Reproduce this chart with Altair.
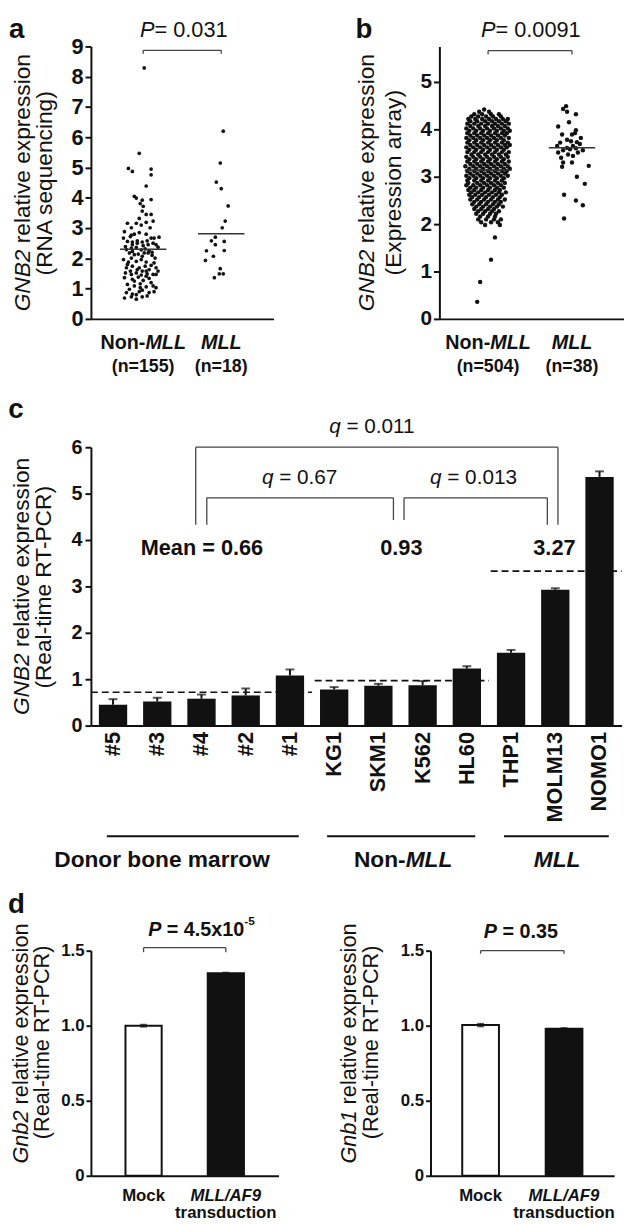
import altair as alt
import pandas as pd

FONT = "Liberation Sans"
INK = "#111111"
LINE_GRAY = "#444444"

# ---------------- panel a : RNA sequencing ----------------
A_GROUPS = ["Non-MLL", "MLL"]
A_COUNTS = ["(n=155)", "(n=18)"]
A_NON_VALUES = [
    8.29, 5.47, 4.97, 4.87, 4.95, 4.76, 4.39, 4.05, 3.99, 3.92,
    3.94, 3.81, 3.72, 3.56, 3.45, 3.23, 3.16, 3.16, 3.19, 3.01,
    3.10, 3.01, 2.67, 2.72, 2.80, 2.85, 2.80, 2.70, 2.56, 2.54,
    2.58, 2.54, 2.58, 2.50, 2.39, 2.34, 2.36, 2.28, 2.31, 2.25,
    2.37, 2.18, 2.12, 2.14, 2.07, 2.18, 2.10, 1.96, 2.01, 1.90,
    1.96, 1.88, 1.85, 1.80, 1.74, 1.69, 1.74, 1.77, 1.58, 1.58,
    1.52, 1.58, 1.49, 1.47, 1.36, 1.31, 1.38, 1.27, 1.34, 1.14,
    1.09, 1.16, 1.06, 1.09, 0.87, 0.82, 0.90, 0.87, 0.69, 0.73,
    0.65, 0.73, 2.29, 2.50, 2.67, 2.45, 2.23, 2.18, 2.01, 1.69,
    1.63, 1.69, 1.47, 1.45, 1.41, 1.25, 1.20, 1.03, 0.98, 0.95,
    0.76, 0.80, 0.90, 2.77, 2.88, 3.45, 3.32, 2.45, 2.42, 2.45,
    1.88, 2.20, 1.58, 1.63, 1.47, 1.52, 1.03, 2.67,
]
A_NON_JITTER = [
    1, -4, -15, -11, 8, 8, 3, -9, -7, -1,
    8, -3, 0, -1, 3, 10, -16, -7, 3, -12,
    -2, 7, -20, -13, -9, -4, 3, 16, -16, -11,
    -6, -1, 4, 10, -18, -12, -7, -2, 2, 6,
    15, -14, -9, -5, -1, 5, 9, -20, -12, -7,
    -2, 3, 11, -16, -11, -4, 2, 8, 15, -13,
    -7, -1, 4, 10, -19, -11, -5, 0, 6, -16,
    -9, -3, 3, 10, -17, -11, -4, 6, -19, -12,
    -7, -1, -17, -6, 8, 13, -11, 1, 12, -17,
    6, 13, -12, -2, 3, -9, 8, 13, -14, -1,
    4, -7, 11, -12, -19, 8, -4, -11, 0, 5,
    -15, 9, 3, -6, 13, -18, -3, 11,
]
A_MLL_VALUES = [6.20, 5.15, 4.52, 4.30, 3.73, 3.23, 3.01, 2.70, 2.58, 2.56,
                2.45, 2.25, 2.26, 2.07, 1.93, 1.66, 1.49, 1.49, 1.36]
A_MLL_JITTER = [2, -1, -5, 0, 7, 4, 1, -6, -10, 3, -6, -15, 3, -8, -16, -1, -2, 2, -7]
A_MEANS = [2.30, 2.81]
A_BRACKET = [8.76, 8.87]
A_P = "0.031"
A_Y_TICKS = [0, 1, 2, 3, 4, 5, 6, 7, 8, 9]

# ---------------- panel b : expression array ----------------
B_COUNTS = ["(n=504)", "(n=38)"]
B_NON_ROWS = [
    (4.42, [-4]),
    (4.37, [-9, 1]),
    (4.32, [-14, -6, 3, 11]),
    (4.27, [-17, -10, -2, 5, 13]),
    (4.22, [-20, -13, -6, 1, 8, 15, 20]),
    (4.17, [-18, -11, -3, 4, 11, 18]),
    (4.12, [-21, -14, -7, 0, 7, 14, 21]),
    (4.07, [-18, -10, -3, 4, 10, 17]),
    (4.02, [-22, -15, -8, -1, 6, 13, 20]),
    (3.97, [-19, -12, -5, 2, 9, 16, 22]),
    (3.92, [-21, -14, -7, 0, 7, 14, 19]),
    (3.87, [-18, -11, -4, 3, 10, 17]),
    (3.82, [-22, -15, -8, -1, 6, 13, 21]),
    (3.77, [-19, -12, -5, 2, 9, 16]),
    (3.72, [-21, -14, -7, 0, 7, 14, 20]),
    (3.67, [-18, -11, -4, 3, 10, 17, 22]),
    (3.62, [-22, -15, -8, -1, 6, 13, 19]),
    (3.57, [-19, -12, -5, 2, 9, 16]),
    (3.52, [-21, -14, -7, 0, 7, 14, 21]),
    (3.47, [-17, -10, -3, 4, 11, 18]),
    (3.42, [-22, -15, -8, -1, 6, 13, 20]),
    (3.37, [-19, -12, -5, 2, 9, 16]),
    (3.32, [-21, -14, -7, 0, 7, 14, 21]),
    (3.27, [-18, -11, -4, 3, 10, 17]),
    (3.22, [-23, -15, -8, -1, 6, 13, 20]),
    (3.17, [-19, -12, -5, 2, 9, 16, 22]),
    (3.12, [-21, -14, -7, 0, 7, 14, 19]),
    (3.07, [-18, -11, -4, 3, 10, 17]),
    (3.02, [-22, -15, -8, -1, 6, 13, 20]),
    (2.97, [-19, -12, -5, 2, 9, 16]),
    (2.92, [-21, -14, -7, 0, 7, 14]),
    (2.87, [-20, -11, -4, 3, 10, 17]),
    (2.82, [-22, -15, -8, -1, 6, 13]),
    (2.77, [-18, -12, -5, 2, 9, 16]),
    (2.72, [-20, -14, -7, 0, 7, 12]),
    (2.67, [-17, -10, -3, 4, 11, 18]),
    (2.62, [-19, -13, -6, 1, 8, 14]),
    (2.57, [-16, -9, -2, 5, 12]),
    (2.52, [-18, -11, -4, 3, 10, 17]),
    (2.47, [-14, -7, 0, 7, 13]),
    (2.42, [-16, -9, -2, 5, 11]),
    (2.37, [-12, -5, 2, 9, 15]),
    (2.32, [-14, -7, 0, 6]),
    (2.27, [-10, -3, 4, 11]),
    (2.22, [-12, -5, 2, 8]),
    (2.16, [-8, 0, 7]),
    (2.10, [-10, -2, 6, 13]),
    (2.04, [-7, 3, 10]),
    (1.98, [-3, 12]),
    (1.72, [7]),
    (1.25, [3]),
    (0.78, [-8]),
    (0.36, [-11]),
]
B_MLL_VALUES = [4.49, 4.43, 4.37, 4.32, 4.06, 4.15, 3.98, 3.92, 3.89, 3.78,
                3.75, 3.73, 3.72, 3.69, 3.65, 3.60, 3.58, 3.56, 3.51, 3.47,
                3.44, 3.56, 3.30, 3.30, 3.21, 3.23, 3.00, 2.85, 2.62, 2.50,
                2.40, 2.12, 3.40, 3.51, 3.61, 3.65, 3.82, 3.89]
B_MLL_JITTER = [-6, -9, -5, 4, -14, -3, 4, 3, -10, -5, -1, 5, -12, 8, 1, 4, -2, -9, -14, -4,
                1, 11, -9, 0, -10, 17, 5, 13, -8, 4, 11, -8, -11, 6, -5, -15, 9, 0]
B_MEANS = [3.14, 3.61]
B_BRACKET = [5.58, 5.66]
B_P = "0.0091"
B_Y_TICKS = [0, 1, 2, 3, 4, 5]

# ---------------- panel c : real-time RT-PCR ----------------
C_CATS = ["#5", "#3", "#4", "#2", "#1", "KG1", "SKM1", "K562", "HL60", "THP1", "MOLM13", "NOMO1"]
C_MEANS = [0.45, 0.52, 0.58, 0.65, 1.08, 0.78, 0.86, 0.87, 1.23, 1.57, 2.93, 5.36]
C_ERRS = [0.12, 0.08, 0.09, 0.15, 0.13, 0.05, 0.04, 0.09, 0.05, 0.06, 0.03, 0.12]
C_GROUP_NAMES = ["Donor bone marrow", "Non-MLL", "MLL"]
C_GROUP_START = [0.0, 5.06, 9.04]
C_GROUP_END = [5.0, 9.0, 12.0]
C_GROUP_MEANS = [0.72, 0.97, 3.33]
C_UNDERLINE_START = [0.36, 5.34, 9.34]
C_UNDERLINE_END = [4.70, 8.69, 11.71]
C_GROUP_LABEL_X = [1.61, 7.06, 10.54]
C_MEAN_LABELS = ["Mean = 0.66", "0.93", "3.27"]
C_MEAN_LABEL_X = [2.51, 7.02, 10.48]
C_MEAN_LABEL_Y = 3.67
# brackets: x1, x2, top, left leg bottom, right leg bottom
C_BRACKETS = [(2.37, 10.56, 6.00, 4.33, 4.33),
              (2.62, 6.84, 4.91, 4.33, 4.43),
              (7.08, 10.32, 4.91, 4.43, 4.33)]
C_Q_LABELS = ["0.011", "0.67", "0.013"]
C_Q_X = [6.37, 4.72, 8.65]
C_Q_Y = [6.31, 5.21, 5.21]
C_Y_TICKS = [0, 1, 2, 3, 4, 5, 6]

# ---------------- panel d : MLL/AF9 transduction ----------------
D_CATS = ["Mock", "MLL/AF9"]
D1_MEANS = [1.00, 1.35]
D1_ERRS = [0.008, 0.005]
D1_BRACKET = [1.49, 1.52]
D2_MEANS = [1.004, 0.98]
D2_ERRS = [0.010, 0.006]
D2_BRACKET = [1.48, 1.50]
D_Y_TICKS = [0, 0.5, 1.0, 1.5]

# ---------------- text helpers (Arial / Liberation Sans metrics) ----------------
W_REG = {" ": 278, "(": 333, ")": 333, "-": 333, ".": 278, "=": 584, "/": 278, "#": 556,
         "A": 667, "B": 667, "C": 722, "E": 667, "F": 611, "G": 778, "L": 556, "M": 833,
         "N": 722, "P": 667, "R": 722, "S": 667, "T": 611,
         "a": 556, "b": 556, "c": 500, "d": 556, "e": 556, "g": 556, "i": 222, "l": 222,
         "m": 833, "n": 556, "o": 556, "p": 556, "q": 556, "r": 333, "s": 500, "t": 278,
         "u": 556, "v": 500, "w": 722, "x": 500, "y": 500}
W_BOLD = {" ": 278, "(": 333, ")": 333, "-": 333, ".": 278, "=": 584, "/": 278, "#": 556,
          "A": 722, "B": 722, "D": 722, "F": 611, "L": 611, "M": 833, "N": 722, "P": 667,
          "a": 556, "b": 611, "c": 556, "d": 611, "e": 556, "i": 278, "k": 556, "l": 278,
          "m": 889, "n": 611, "o": 611, "r": 389, "s": 556, "t": 333, "u": 611, "w": 778,
          "x": 556}

ONE = alt.Data(values=[{"k": 0}])


def tw(s, size, bold=False):
    tbl = W_BOLD if bold else W_REG
    return sum(tbl.get(ch, 556) for ch in s) * size / 1000.0


def seg(text, italic=False, bold=False, size=None, dy=0):
    return {"text": text, "italic": italic, "bold": bold, "size": size, "dy": dy}


def mixed(segs, size, enc, data=None, angle=0, anchor="center", color=INK):
    data = ONE if data is None else data
    widths = [tw(s["text"], s["size"] or size, s["bold"]) for s in segs]
    total = sum(widths)
    off = {"center": -total / 2.0, "left": 0.0, "right": -total}[anchor]
    out = []
    for s, w in zip(segs, widths):
        fs = s["size"] or size
        t = s["text"]
        lead = len(t) - len(t.lstrip(" "))
        dx = off + tw(" " * lead, fs, s["bold"])
        out.append(
            alt.Chart(data).mark_text(
                text=t.strip(" "), align="left", baseline="alphabetic",
                dx=dx, dy=s["dy"], angle=angle, font=FONT, fontSize=fs,
                fontStyle="italic" if s["italic"] else "normal",
                fontWeight="bold" if s["bold"] else "normal", color=color,
            ).encode(**enc)
        )
        off += w
    return out


def letter(ch, x, y, opacity=1.0):
    return alt.Chart(ONE).mark_text(
        text=ch, align="left", baseline="alphabetic", font=FONT, fontSize=28,
        fontWeight="bold", color=INK, opacity=opacity,
    ).encode(x=alt.value(x), y=alt.value(y))


def y_axis(values, size, fmt="d", expr=None, tick=6, pad=2):
    kw = dict(values=values, title=None, grid=False, labelFont=FONT, labelFontSize=size,
              labelFontWeight="bold", labelColor=INK, labelPadding=pad, tickSize=tick,
              tickWidth=2, tickColor=INK, domainWidth=2, domainColor=INK, labelOverlap=False)
    if expr:
        kw["labelExpr"] = expr
    else:
        kw["format"] = fmt
    return alt.Axis(**kw)


X_PLAIN = alt.Axis(labels=False, ticks=False, grid=False, title=None, domainWidth=2, domainColor=INK)


# ---------------- scatter panels (a, b) ----------------
def scatter_panel(width, height, xdom, ydom, yticks, ysize, non_vals, non_jit, mll_vals, mll_jit,
                  means, bracket, p_value, p_pos, counts, title2, let, let_x, t1x, t2x, pt_size):
    ppu = width / (xdom[1] - xdom[0])
    SX = alt.Scale(domain=xdom, nice=False, zero=False)
    SY = alt.Scale(domain=ydom, nice=False, zero=True)
    YA = y_axis(yticks, ysize)

    def ex(f="x"):
        return alt.X(f + ":Q", scale=SX, axis=X_PLAIN)

    def ey(f="y"):
        return alt.Y(f + ":Q", scale=SY, axis=YA)

    pts = pd.DataFrame({
        "x": [j / ppu for j in non_jit] + [1 + j / ppu for j in mll_jit],
        "y": list(non_vals) + list(mll_vals),
    })
    layers = [alt.Chart(pts).mark_circle(size=pt_size, color=INK, opacity=1).encode(x=ex(), y=ey())]

    half = 23.5 / ppu
    ml = pd.DataFrame({"x": [i - half for i in range(2)], "x2": [i + half for i in range(2)], "y": means})
    layers.append(alt.Chart(ml).mark_rule(color="#333333", strokeWidth=1.6).encode(
        x=ex(), x2="x2:Q", y=ey()))

    lo, hi = bracket
    br = pd.DataFrame({"x": [0, 0, 1], "x2": [1, 0, 1], "y": [hi, lo, lo], "y2": [hi, hi, hi]})
    layers.append(alt.Chart(br).mark_rule(color=LINE_GRAY, strokeWidth=1.3).encode(
        x=ex(), x2="x2:Q", y=ey(), y2="y2:Q"))

    pdata = alt.Data(values=[{"x": p_pos[0], "y": p_pos[1]}])
    layers += mixed([seg("P", italic=True), seg("= " + p_value)], 22,
                    {"x": ex(), "y": ey()}, data=pdata)

    for i, name in enumerate(A_GROUPS):
        d = alt.Data(values=[{"x": i}])
        if name.startswith("Non-"):
            segs = [seg("Non-", bold=True), seg("MLL", italic=True, bold=True)]
        else:
            segs = [seg("MLL", italic=True, bold=True)]
        layers += mixed(segs, 20, {"x": ex(), "y": alt.value(306)}, data=d)
        layers += mixed([seg(counts[i], bold=True)], 18, {"x": ex(), "y": alt.value(330)}, data=d)

    layers += mixed([seg("GNB2", italic=True), seg(" relative expression")], 23,
                    {"x": alt.value(t1x), "y": alt.value(height / 2.0)}, angle=270)
    layers += mixed([seg(title2)], 23, {"x": alt.value(t2x), "y": alt.value(height / 2.0)}, angle=270)
    layers.append(letter(let, let_x, -9))
    return alt.layer(*layers).properties(width=width, height=height)


panel_a = scatter_panel(
    185, 276, [-0.67, 1.67], [0, 9], A_Y_TICKS, 22,
    A_NON_VALUES, A_NON_JITTER, A_MLL_VALUES, A_MLL_JITTER,
    A_MEANS, A_BRACKET, A_P, (0.52, 9.31), A_COUNTS, "(RNA sequencing)",
    "a", -83, -62, -39, 14)

B_NON_VALUES = [v for v, js in B_NON_ROWS for _ in js]
B_NON_JITTER = [j for v, js in B_NON_ROWS for j in js]

panel_b = scatter_panel(
    187, 276, [-0.58, 1.62], [0, 5.75], B_Y_TICKS, 21,
    B_NON_VALUES, B_NON_JITTER, B_MLL_VALUES, B_MLL_JITTER,
    B_MEANS, B_BRACKET, B_P, (0.51, 5.95), B_COUNTS, "(Expression array)",
    "b", -85, -66, -39, 20)

# ---------------- panel c ----------------
C_W, C_H = 537.6, 282
C_BAND = alt.Scale(type="band", domain=C_CATS, paddingInner=0.36, paddingOuter=0.18)
C_OV = alt.Scale(domain=[0, 12], nice=False, zero=False)
C_SY = alt.Scale(domain=[0, 6], nice=False)
C_YA = y_axis(C_Y_TICKS, 20, tick=6, pad=3)


def cx(f="x"):
    return alt.X(f + ":Q", scale=C_OV, axis=None)


def cy(f="y"):
    return alt.Y(f + ":Q", scale=C_SY, axis=C_YA)


c_df = pd.DataFrame({"cat": C_CATS, "m": C_MEANS,
                     "hi": [m + e for m, e in zip(C_MEANS, C_ERRS)]})
c_layers = [
    alt.Chart(c_df).mark_bar(color=INK).encode(
        x=alt.X("cat:N", scale=C_BAND, axis=alt.Axis(
            title=None, labelAngle=-90, labelFont=FONT, labelFontSize=22, labelFontWeight="bold",
            labelColor=INK, labelPadding=6, ticks=False, domainWidth=2, domainColor=INK, grid=False)),
        y=cy("m")),
    alt.Chart(c_df).mark_rule(color=INK, strokeWidth=2).encode(
        x=alt.X("cat:N", scale=C_BAND, axis=None), y=cy("m"), y2="hi:Q"),
    alt.Chart(c_df).mark_tick(color=INK, thickness=2, size=9).encode(
        x=alt.X("cat:N", scale=C_BAND, axis=None), y=cy("hi")),
]
dash_df = pd.DataFrame({"x": C_GROUP_START, "x2": C_GROUP_END, "y": C_GROUP_MEANS})
c_layers.append(alt.Chart(dash_df).mark_rule(color=INK, strokeWidth=1.6, strokeDash=[7, 4]).encode(
    x=cx(), x2="x2:Q", y=cy()))
br_rows = []
for x1, x2, top, l1, l2 in C_BRACKETS:
    br_rows += [{"x": x1, "x2": x2, "y": top, "y2": top},
                {"x": x1, "x2": x1, "y": l1, "y2": top},
                {"x": x2, "x2": x2, "y": l2, "y2": top}]
c_layers.append(alt.Chart(pd.DataFrame(br_rows)).mark_rule(color=LINE_GRAY, strokeWidth=1.3).encode(
    x=cx(), x2="x2:Q", y=cy(), y2="y2:Q"))
for lab, qx_, qy_ in zip(C_Q_LABELS, C_Q_X, C_Q_Y):
    c_layers += mixed([seg("q", italic=True), seg(" = " + lab)], 21,
                      {"x": cx(), "y": cy()}, data=alt.Data(values=[{"x": qx_, "y": qy_}]))
mean_df = pd.DataFrame({"x": C_MEAN_LABEL_X, "y": [C_MEAN_LABEL_Y] * 3, "t": C_MEAN_LABELS})
c_layers.append(alt.Chart(mean_df).mark_text(
    font=FONT, fontSize=22, fontWeight="bold", color=INK, align="center", baseline="alphabetic").encode(
    x=cx(), y=cy(), text="t:N"))
ul_df = pd.DataFrame({"x": C_UNDERLINE_START, "x2": C_UNDERLINE_END})
c_layers.append(alt.Chart(ul_df).mark_rule(color=INK, strokeWidth=2).encode(
    x=cx(), x2="x2:Q", y=alt.value(394)))
for name, gx in zip(C_GROUP_NAMES, C_GROUP_LABEL_X):
    if name.startswith("Non-"):
        segs = [seg("Non-", bold=True), seg("MLL", italic=True, bold=True)]
    elif name == "MLL":
        segs = [seg("MLL", italic=True, bold=True)]
    else:
        segs = [seg(name, bold=True)]
    c_layers += mixed(segs, 23, {"x": cx(), "y": alt.value(425)}, data=alt.Data(values=[{"x": gx}]))
c_layers += mixed([seg("GNB2", italic=True), seg(" relative expression")], 23,
                  {"x": alt.value(-62.7), "y": alt.value(C_H / 2.0)}, angle=270)
c_layers += mixed([seg("(Real-time RT-PCR)")], 23,
                  {"x": alt.value(-40.7), "y": alt.value(C_H / 2.0)}, angle=270)
c_layers.append(letter("c", -83.7, -30))
panel_c = alt.layer(*c_layers).resolve_scale(x="independent").properties(width=C_W, height=C_H)


# ---------------- panel d ----------------
def d_panel(means, errs, bracket, p_segs, p_x, p_y, gene, width, pad_outer, t1x, t2x, show_letter):
    band = alt.Scale(type="band", domain=D_CATS, paddingInner=0.56, paddingOuter=pad_outer)
    SY = alt.Scale(domain=[0, 1.5], nice=False)
    YA = y_axis(D_Y_TICKS, 17, expr="datum.value == 0 ? '0' : format(datum.value, '.1f')", tick=5, pad=2)

    def dx_(f="c"):
        return alt.X(f + ":N", scale=band, axis=X_PLAIN)

    def dy_(f):
        return alt.Y(f + ":Q", scale=SY, axis=YA)

    df = pd.DataFrame({"c": D_CATS, "m": means,
                       "lo": [m - e for m, e in zip(means, errs)],
                       "hi": [m + e for m, e in zip(means, errs)]})
    layers = [
        alt.Chart(df).mark_bar(stroke=INK, strokeWidth=2).encode(
            x=dx_(), y=dy_("m"),
            fill=alt.Fill("c:N", scale=alt.Scale(domain=D_CATS, range=["white", INK]), legend=None)),
        alt.Chart(df).mark_rule(color=INK, strokeWidth=1.5).encode(x=dx_(), y=dy_("lo"), y2="hi:Q"),
        alt.Chart(df).mark_tick(color=INK, thickness=1.5, size=7).encode(x=dx_(), y=dy_("hi")),
        alt.Chart(df).mark_tick(color=INK, thickness=1.5, size=7).encode(x=dx_(), y=dy_("lo")),
    ]
    lo, hi = bracket
    br = pd.DataFrame({"c": ["Mock", "Mock", "MLL/AF9"], "c2": ["MLL/AF9", "Mock", "MLL/AF9"],
                       "y": [hi, lo, lo], "y2": [hi, hi, hi]})
    layers.append(alt.Chart(br).mark_rule(color=LINE_GRAY, strokeWidth=1.3).encode(
        x=dx_(), x2="c2", y=dy_("y"), y2="y2:Q"))
    layers += mixed(p_segs, 20, {"x": alt.value(p_x), "y": alt.value(p_y)}, anchor="left")
    layers += mixed([seg("Mock", bold=True)], 17, {"x": dx_(), "y": alt.value(254)},
                    data=alt.Data(values=[{"c": "Mock"}]))
    layers += mixed([seg("MLL/AF9", italic=True, bold=True)], 17, {"x": dx_(), "y": alt.value(254)},
                    data=alt.Data(values=[{"c": "MLL/AF9"}]))
    layers += mixed([seg("transduction", bold=True)], 17, {"x": dx_(), "y": alt.value(271)},
                    data=alt.Data(values=[{"c": "MLL/AF9"}]))
    layers += mixed([seg(gene, italic=True), seg(" relative expression")], 22,
                    {"x": alt.value(t1x), "y": alt.value(94)}, angle=270)
    layers += mixed([seg("(Real-time RT-PCR)")], 22,
                    {"x": alt.value(t2x), "y": alt.value(92)}, angle=270)
    if show_letter:
        layers.append(letter("d", -84, -38))
    else:
        layers.append(letter("d", -60, -38, opacity=0))
    return alt.layer(*layers).properties(width=width, height=228)


panel_d1 = d_panel(D1_MEANS, D1_ERRS, D1_BRACKET,
                   [seg("P", italic=True, bold=True), seg(" = 4.5x10", bold=True),
                    seg("-5", bold=True, size=12, dy=-11)],
                   58, -15, "Gnb2", 190, 0.42, -64, -42, True)
panel_d2 = d_panel(D2_MEANS, D2_ERRS, D2_BRACKET,
                   [seg("P", italic=True, bold=True), seg(" = 0.35", bold=True)],
                   54, -13, "Gnb1", 186, 0.38, -75, -53, False)

row1 = alt.hconcat(panel_a, panel_b, spacing=83)
row3 = alt.hconcat(panel_d1, panel_d2, spacing=60)

chart = alt.vconcat(row1, panel_c, row3, spacing=20).properties(
    padding={"left": 0, "top": 0, "right": 0, "bottom": 0}
).configure_view(stroke=None)

chart.save("out.html", embed_options={"renderer": "svg", "actions": False})
